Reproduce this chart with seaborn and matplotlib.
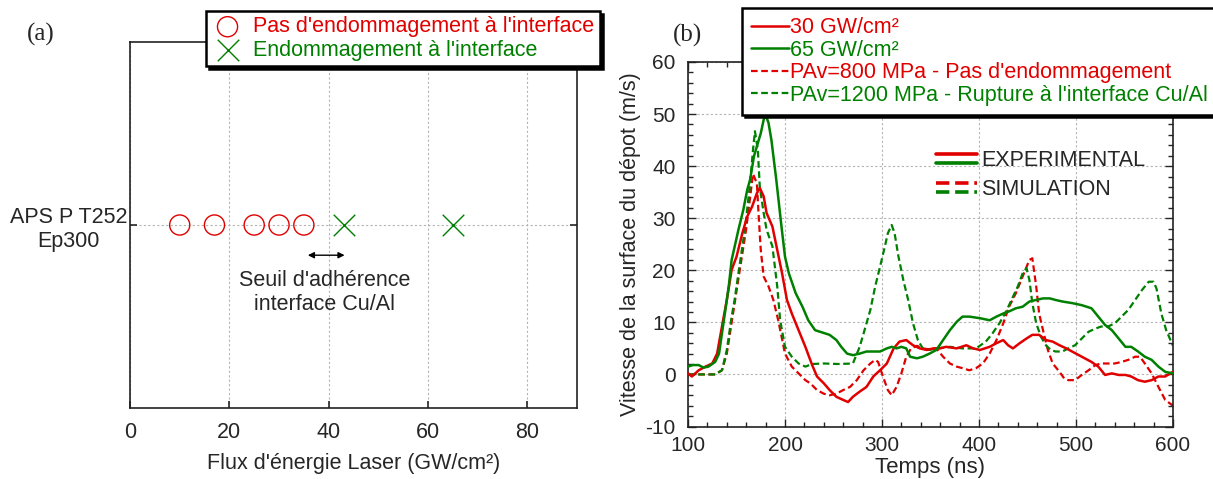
import numpy as np
import pandas as pd
import matplotlib
matplotlib.use('Agg')
import matplotlib.pyplot as plt
import seaborn as sns
from matplotlib.lines import Line2D
from matplotlib.legend_handler import HandlerBase
from matplotlib.ticker import MultipleLocator

RED = '#e00000'
GREEN = '#008000'

# (a) damage threshold - laser flux (GW/cm2)
sample_name = 'APS P T252\nEp300'
flux_no_damage = [10, 17, 25, 30, 35]
flux_damage = [43, 65]

# (b) free surface velocity vs time
t_exp30 = [100, 104, 111, 118, 125, 130, 135, 140, 145, 150, 156, 161, 166, 171, 174, 178,
           181, 187, 192, 197, 202, 207, 214, 221, 228, 233, 240, 246, 253, 260, 265, 270,
           277, 284, 291, 298, 305, 312, 318, 325, 332, 339, 346, 353, 360, 366, 377, 387,
           394, 401, 411, 418, 425, 430, 435, 442, 449, 455, 462, 469, 476, 483, 490, 496,
           506, 516, 523, 530, 537, 544, 551, 557, 564, 571, 578, 585, 592, 600]
v_exp30 = [0.2, -0.4, 0.8, 1.5, 2.1, 4.0, 9.2, 14.3, 20.1, 22.6, 27.1, 30.3, 32.2, 34.8, 35.8, 34.2,
           31.0, 28.4, 23.9, 19.4, 14.3, 11.7, 8.5, 5.3, 1.8, -0.4, -1.7, -3.0, -4.3, -4.9, -5.3, -4.3,
           -3.3, -2.4, -0.4, 0.8, 2.1, 5.0, 6.3, 6.6, 5.6, 5.0, 4.7, 5.0, 5.0, 5.3, 5.0, 5.6,
           5.0, 4.7, 5.3, 6.0, 6.6, 5.6, 5.0, 6.0, 6.9, 7.6, 7.6, 6.6, 6.3, 5.6, 5.0, 4.4,
           3.4, 2.4, 1.5, -0.1, 0.2, -0.1, -0.1, -0.4, -1.1, -1.4, -1.1, -0.4, -0.4, 0.5]

t_exp65 = [100, 105, 111, 116, 121, 128, 132, 135, 139, 142, 145, 152, 157, 161, 164, 168,
           171, 175, 178, 180, 183, 186, 191, 196, 200, 204, 211, 218, 224, 231, 236, 246,
           253, 258, 264, 270, 277, 284, 291, 298, 305, 310, 315, 320, 325, 329, 336, 342,
           349, 356, 363, 370, 377, 383, 390, 401, 411, 418, 425, 431, 438, 445, 452, 459,
           466, 473, 479, 486, 496, 506, 516, 523, 530, 537, 544, 551, 557, 564, 571, 578,
           585, 592, 600]
v_exp65 = [1.5, 1.8, 1.8, 1.3, 1.5, 2.4, 4.0, 7.9, 13.0, 16.9, 22.0, 27.8, 31.6, 35.4, 37.4, 41.9,
           43.8, 46.3, 48.9, 49.9, 48.3, 45.0, 37.4, 29.0, 22.6, 19.4, 15.6, 13.0, 10.4, 8.5, 8.2, 7.6,
           6.6, 5.3, 4.0, 3.7, 4.0, 4.4, 4.4, 4.4, 5.0, 5.3, 5.0, 5.3, 5.0, 3.4, 3.1, 3.4,
           4.0, 4.7, 6.6, 8.5, 10.1, 11.1, 11.1, 10.8, 10.4, 11.1, 11.7, 12.1, 12.7, 13.0, 14.0, 14.3,
           14.6, 14.6, 14.3, 14.0, 13.7, 13.3, 12.7, 11.1, 9.5, 8.5, 6.9, 5.3, 5.3, 4.4, 3.4, 2.8,
           1.5, 0.5, 0.2]

t_sim800 = [100, 128, 135, 140, 145, 150, 155, 160, 164, 167, 171, 173, 175, 178, 183, 188,
            193, 200, 207, 214, 221, 226, 233, 240, 246, 253, 260, 267, 274, 281, 288, 293,
            296, 301, 306, 310, 315, 320, 325, 330, 336, 342, 349, 356, 363, 370, 377, 383,
            390, 397, 404, 411, 418, 425, 431, 438, 445, 452, 455, 459, 462, 466, 471, 476,
            483, 488, 492, 499, 506, 513, 520, 526, 540, 547, 554, 561, 566, 571, 578, 585,
            592, 600]
v_sim800 = [0.0, 0.0, 0.8, 4.0, 10.0, 16.0, 22.0, 28.0, 34.0, 38.5, 36.7, 30.0, 23.9, 18.8, 16.9, 14.3,
            10.4, 4.0, 1.5, 0.2, -1.1, -1.7, -3.0, -3.7, -4.0, -3.7, -3.0, -2.4, -1.1, 0.8, 2.1, 2.8,
            2.4, -0.4, -3.0, -4.0, -2.4, 0.2, 3.4, 5.0, 5.5, 5.0, 4.8, 5.0, 3.4, 2.1, 1.5, 1.2,
            0.8, 1.2, 2.1, 4.0, 6.6, 9.8, 13.0, 15.6, 18.8, 22.0, 22.3, 16.9, 11.7, 8.5, 4.7, 2.1,
            0.5, -0.8, -1.1, -1.1, -0.1, 0.8, 1.8, 2.1, 2.1, 2.4, 2.8, 3.4, 3.4, 2.1, 0.2, -2.4,
            -4.9, -6.0]

t_sim1200 = [100, 128, 135, 140, 145, 148, 154, 159, 164, 167, 169, 172, 174, 178, 181, 187,
             192, 195, 200, 207, 214, 221, 228, 240, 255, 270, 277, 282, 288, 293, 298, 303,
             306, 310, 313, 317, 322, 327, 332, 337, 342, 349, 356, 370, 383, 397, 407, 414,
             421, 428, 435, 440, 445, 449, 452, 455, 459, 464, 469, 474, 479, 486, 492, 499,
             506, 513, 520, 526, 533, 540, 547, 554, 561, 568, 575, 580, 583, 588, 593, 600]
v_sim1200 = [0.0, 0.0, 0.8, 4.7, 11.1, 14.3, 22.0, 28.4, 36.7, 43.1, 46.7, 43.1, 36.0, 31.0, 27.8, 24.6,
             16.9, 10.4, 5.3, 3.4, 2.1, 1.5, 2.0, 2.1, 2.0, 2.1, 5.3, 8.5, 12.4, 16.9, 20.7, 24.6,
             27.1, 28.7, 27.1, 22.6, 18.1, 14.3, 9.8, 6.6, 5.0, 4.7, 5.0, 5.3, 5.0, 5.0, 6.3, 7.9,
             9.8, 12.1, 14.9, 16.9, 19.4, 20.4, 18.1, 13.7, 9.8, 7.2, 5.6, 4.7, 4.4, 4.4, 5.0, 5.6,
             6.9, 8.2, 8.8, 9.2, 9.2, 9.8, 11.1, 12.4, 14.3, 16.2, 17.8, 17.8, 16.5, 11.7, 8.5, 5.5]


class StackedLines(HandlerBase):
    # two short lines stacked one over the other in a single legend row
    def create_artists(self, legend, orig_handle, xdescent, ydescent,
                       width, height, fontsize, trans):
        artists = []
        for i, h in enumerate(orig_handle):
            y = height / 2 - ydescent + 3.4 - 6.8 * i
            ln = Line2D([-xdescent, width - xdescent], [y, y], color=h.get_color(),
                        linestyle=h.get_linestyle(), linewidth=h.get_linewidth(),
                        transform=trans)
            artists.append(ln)
        return artists


sns.set_style('ticks')
plt.rcParams['font.family'] = ['Liberation Sans', 'DejaVu Sans']
plt.rcParams['axes.unicode_minus'] = False
FS = 15
FSL = 15.5

fig = plt.figure(figsize=(12.13, 4.79), dpi=100)
ax1 = fig.add_axes([0.1072, 0.1482, 0.3685, 0.7641])
ax2 = fig.add_axes([0.5672, 0.1096, 0.3998, 0.7610])

grid_kw = dict(color='#b4b4b4', linestyle=(0, (2, 2)), linewidth=0.8)

# ---- (a)
sns.scatterplot(x=flux_no_damage, y=[sample_name] * len(flux_no_damage), ax=ax1,
                marker='o', s=210, facecolor='none', edgecolor=RED, linewidth=1.0,
                label="Pas d'endommagement à l'interface", zorder=3)
sns.scatterplot(x=flux_damage, y=[sample_name] * len(flux_damage), ax=ax1,
                marker='x', s=240, color=GREEN, linewidth=1.0,
                label="Endommagement à l'interface", zorder=3)
if ax1.get_legend():
    ax1.get_legend().remove()
ax1.set_xlim(0, 90)
ax1.set_ylim(-1, 1)
ax1.set_xticks([0, 20, 40, 60, 80])
ax1.grid(True, **grid_kw)
ax1.set_axisbelow(True)
ax1.tick_params(direction='in', right=True, top=False, labelsize=FSL, length=5, width=1.2)
ax1.tick_params(axis='x', pad=10)
ax1.tick_params(axis='y', pad=2)
for lab in ax1.get_yticklabels():
    lab.set_multialignment('center')
ax1.set_xlabel("Flux d'énergie Laser (GW/cm²)", fontsize=FSL, labelpad=7)
ax1.set_ylabel('')
for sp in ax1.spines.values():
    sp.set_linewidth(1.2)
    sp.set_color('#222222')

ax1.annotate('', xy=(35.8, -0.165), xytext=(43.2, -0.165),
             arrowprops=dict(arrowstyle='<|-|>', color='black', lw=1.0,
                             mutation_scale=9, shrinkA=0, shrinkB=0))
ax1.text(39.2, -0.37, "Seuil d'adhérence\ninterface Cu/Al", ha='center', va='center',
         fontsize=FSL)

h1, l1 = ax1.get_legend_handles_labels()
leg1 = fig.legend(h1, l1, loc='upper left', bbox_to_anchor=(206 / 1213, 1 - 11 / 479),
                  fontsize=FSL, frameon=True, fancybox=False, framealpha=1,
                  edgecolor='black', scatterpoints=1, handlelength=1.5,
                  handletextpad=0.45, labelspacing=0.1, borderpad=0.25,
                  borderaxespad=0, shadow={'color': 'black', 'alpha': 1})
leg1.get_frame().set_linewidth(1.8)
for txt, col in zip(leg1.get_texts(), [RED, GREEN]):
    txt.set_color(col)

fig.text(27 / 1213, 1 - 34 / 479, '(a)', family='Liberation Serif', fontsize=18,
         va='center', ha='left')

# ---- (b)
sns.lineplot(x=t_exp30, y=v_exp30, ax=ax2, color=RED, linewidth=1.8,
             label='30 GW/cm²', zorder=3)
sns.lineplot(x=t_exp65, y=v_exp65, ax=ax2, color=GREEN, linewidth=1.8,
             label='65 GW/cm²', zorder=3)
sns.lineplot(x=t_sim800, y=v_sim800, ax=ax2, color=RED, linewidth=1.6,
             linestyle=(0, (3, 1.6)), label="PAv=800 MPa - Pas d'endommagement", zorder=2)
sns.lineplot(x=t_sim1200, y=v_sim1200, ax=ax2, color=GREEN, linewidth=1.6,
             linestyle=(0, (3, 1.6)), label="PAv=1200 MPa - Rupture à l'interface Cu/Al",
             zorder=2)
if ax2.get_legend():
    ax2.get_legend().remove()

ax2.set_xlim(100, 600)
ax2.set_ylim(-10, 60)
ax2.xaxis.set_major_locator(MultipleLocator(100))
ax2.xaxis.set_minor_locator(MultipleLocator(20))
ax2.yaxis.set_major_locator(MultipleLocator(10))
ax2.yaxis.set_minor_locator(MultipleLocator(2))
ax2.grid(True, which='major', **grid_kw)
ax2.set_axisbelow(True)
ax2.tick_params(which='both', direction='in', top=True, right=True, labelsize=FS, width=1.0)
ax2.tick_params(which='major', length=6)
ax2.tick_params(which='minor', length=3.5)
ax2.tick_params(axis='x', pad=7)
ax2.tick_params(axis='y', pad=9)
ax2.set_xlabel('Temps (ns)', fontsize=16, labelpad=1)
ax2.set_ylabel('Vitesse de la surface du dépot (m/s)', fontsize=FSL, labelpad=3)
for sp in ax2.spines.values():
    sp.set_linewidth(1.2)
    sp.set_color('#222222')

h2, l2 = ax2.get_legend_handles_labels()
leg2 = fig.legend(h2, l2, loc='upper left', bbox_to_anchor=(742 / 1213, 1 - 8 / 479),
                  fontsize=FSL, frameon=True, fancybox=False, framealpha=1,
                  edgecolor='black', handlelength=1.75, handletextpad=0.05,
                  labelspacing=0.07, borderpad=0.42, borderaxespad=0,
                  shadow={'color': 'black', 'alpha': 1})
leg2.get_frame().set_linewidth(1.8)
for txt, col in zip(leg2.get_texts(), [RED, GREEN, RED, GREEN]):
    txt.set_color(col)

exp_key = (Line2D([], [], color=RED, lw=2.6), Line2D([], [], color=GREEN, lw=2.6))
sim_key = (Line2D([], [], color=RED, lw=2.6, linestyle=(0, (2.2, 1))),
           Line2D([], [], color=GREEN, lw=2.6, linestyle=(0, (2.2, 1))))
ax2.legend([exp_key, sim_key], ['EXPERIMENTAL', 'SIMULATION'],
           handler_map={tuple: StackedLines()}, loc='upper left',
           bbox_to_anchor=(936 / 1213, 1 - 150 / 479), bbox_transform=fig.transFigure,
           frameon=False, fontsize=FSL, handlelength=1.9, handletextpad=0.2,
           labelspacing=0.38, borderpad=0, borderaxespad=0)

fig.text(673 / 1213, 1 - 35 / 479, '(b)', family='Liberation Serif', fontsize=18,
         va='center', ha='left')

fig.savefig('out.png', dpi=100)
plt.close(fig)
